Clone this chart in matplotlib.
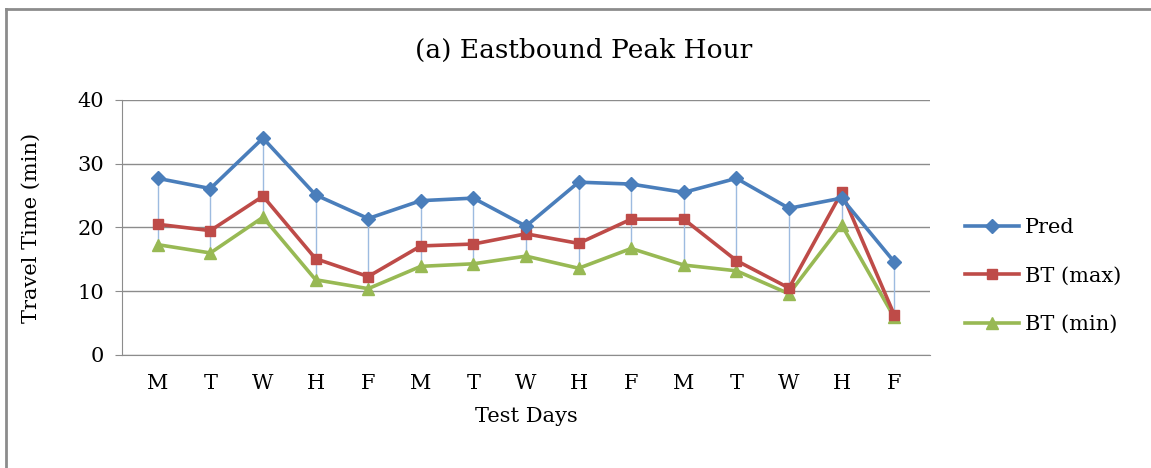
import matplotlib
matplotlib.use("Agg")
import matplotlib.pyplot as plt
from matplotlib.lines import Line2D
import numpy as np

days = ["M", "T", "W", "H", "F", "M", "T", "W", "H", "F", "M", "T", "W", "H", "F"]
pred = [27.7, 26.1, 34.0, 25.1, 21.4, 24.2, 24.6, 20.2, 27.1, 26.8, 25.5, 27.7, 23.0, 24.6, 14.6]
bt_max = [20.5, 19.5, 24.9, 15.1, 12.3, 17.1, 17.4, 19.0, 17.5, 21.3, 21.3, 14.8, 10.5, 25.5, 6.3]
bt_min = [17.3, 16.0, 21.6, 11.8, 10.4, 13.9, 14.3, 15.5, 13.6, 16.7, 14.1, 13.2, 9.6, 20.4, 5.9]

BLUE = "#4A7EBB"
RED = "#BE4B48"
GREEN = "#98B954"
FONT = "DejaVu Serif"

plt.rcParams["font.family"] = FONT

fig = plt.figure(figsize=(11.51, 4.68), dpi=100)
ax = fig.add_axes([0.106, 0.2415, 0.702, 0.545])

x = np.arange(len(days))
stack = np.vstack([pred, bt_max, bt_min])
# high-low lines between the series at each day
ax.vlines(x, stack.min(axis=0), stack.max(axis=0), color="#9DBBE0", linewidth=1.0, zorder=2)

ax.plot(x, pred, color=BLUE, lw=2.6, marker="D", ms=7.5, label="Pred", zorder=5)
ax.plot(x, bt_max, color=RED, lw=2.6, marker="s", ms=7.5, label="BT (max)", zorder=4)
ax.plot(x, bt_min, color=GREEN, lw=2.6, marker="^", ms=8.5, label="BT (min)", zorder=3)

ax.set_xlim(-0.68, len(days) - 0.32)
ax.set_ylim(0, 40)
ax.set_yticks([0, 10, 20, 30, 40])
ax.set_xticks(x)
ax.set_xticklabels(days)
ax.yaxis.grid(True, color="#8C8C8C", lw=1.0)
ax.set_axisbelow(True)
for s in ["top", "right"]:
    ax.spines[s].set_visible(False)
ax.spines["left"].set_color("#8C8C8C")
ax.spines["bottom"].set_color("#8C8C8C")
ax.tick_params(axis="x", length=0, pad=14, labelsize=15)
ax.tick_params(axis="y", length=5, color="#8C8C8C", pad=8, labelsize=15)

ax.set_xlabel("Test Days", fontsize=15, labelpad=10)
ax.set_ylabel("Travel Time (min)", fontsize=15, labelpad=26)
fig.text(0.507, 0.893, "(a) Eastbound Peak Hour", ha="center", va="center", fontsize=19)

ax.legend(loc="center left", bbox_to_anchor=(1.02, 0.31), frameon=False,
          fontsize=15, handlelength=2.6, labelspacing=1.42, handletextpad=0.3)

fig.add_artist(Line2D([0.005, 0.005], [0, 0.981], color="#8C8C8C", lw=2))
fig.add_artist(Line2D([0.005, 1.0], [0.981, 0.981], color="#8C8C8C", lw=2))

fig.savefig("out.png", dpi=100)
